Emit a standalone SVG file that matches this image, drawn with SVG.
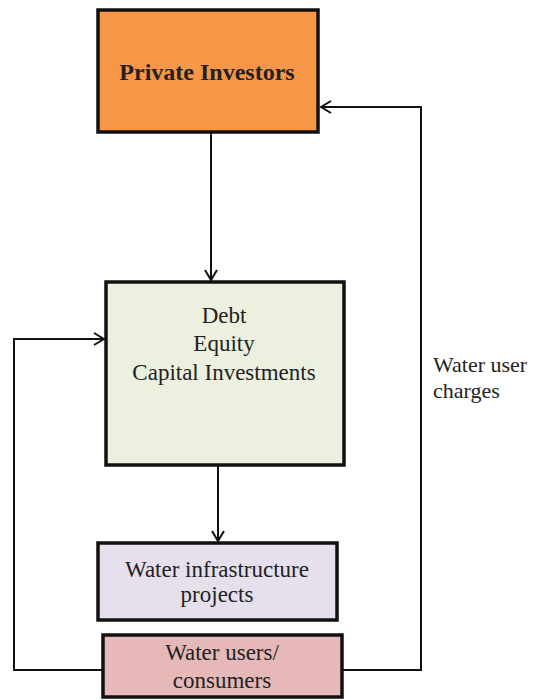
<svg xmlns="http://www.w3.org/2000/svg" width="544" height="700" viewBox="0 0 544 700">
<defs>
<style>
.box{stroke:#111;stroke-width:3.5}
text{font-family:'Liberation Serif','Times New Roman',serif;font-size:23px;fill:#222;text-anchor:middle}
.c{fill:none;stroke:#111;stroke-width:2}
</style>
<marker id="ah" markerWidth="14" markerHeight="14" refX="11" refY="7" orient="auto" markerUnits="userSpaceOnUse">
<path d="M1,1 L11,7 L1,13" fill="none" stroke="#111" stroke-width="2"/>
</marker>
</defs>
<rect width="544" height="700" fill="#fff"/>
<g id="connectors">
<line class="c" x1="211" y1="133" x2="211" y2="280" marker-end="url(#ah)"/>
<line class="c" x1="218" y1="466" x2="218" y2="541" marker-end="url(#ah)"/>
<polyline class="c" points="342,670 421,670 421,107 321,107" marker-end="url(#ah)"/>
<polyline class="c" points="103,670 14,670 14,339 104,339" marker-end="url(#ah)"/>
</g>
<g id="private-investors">
<rect class="box" x="98" y="10" width="220" height="122" fill="#F79646"/>
<text x="207" y="80" font-weight="bold" style="font-size:24px">Private Investors</text>
</g>
<g id="debt-equity">
<rect class="box" x="106" y="282" width="238" height="183" fill="#EBF1DE"/>
<text x="224" y="323">Debt</text>
<text x="224" y="351">Equity</text>
<text x="224" y="380">Capital Investments</text>
</g>
<g id="water-infrastructure">
<rect class="box" x="98" y="543" width="239" height="77" fill="#E5E0EC"/>
<text x="217" y="577">Water infrastructure</text>
<text x="217" y="602">projects</text>
</g>
<g id="water-users">
<rect class="box" x="103" y="635" width="239" height="62" fill="#E6B9B8"/>
<text x="222" y="660">Water users/</text>
<text x="222" y="688">consumers</text>
</g>
<g id="label-charges">
<text x="433" y="372" style="text-anchor:start;font-size:22px">Water user</text>
<text x="433" y="398" style="text-anchor:start;font-size:22px">charges</text>
</g>
</svg>
